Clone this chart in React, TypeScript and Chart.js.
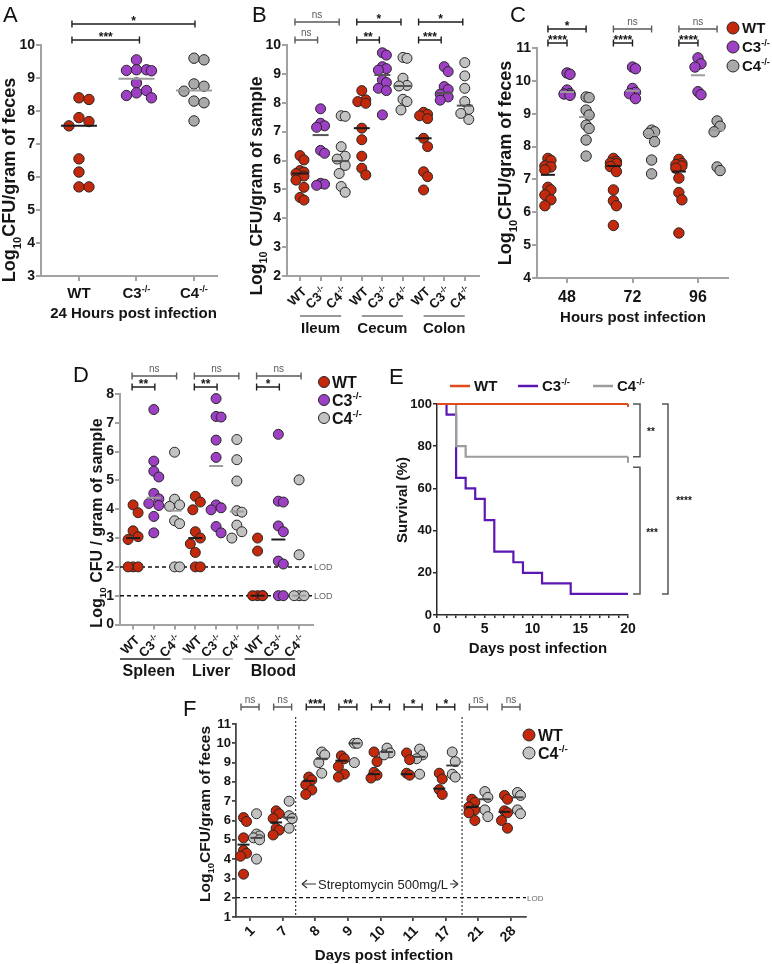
import React, { useEffect, useRef } from 'react';
import { Chart, registerables } from 'chart.js';

Chart.register(...registerables);

const FONT = '"Liberation Sans", Arial, Helvetica, sans-serif';
Chart.defaults.font.family = FONT;

const INK = '#151515';
const EDGE = '#262626';
const RED = '#c4290c';
const PURPLE = '#9d40c3';
const GREY = '#a9a9a9';
const GREY_PALE = '#c2c2c2';
const AXIS_GREY = '#a2a2a2';
const MED_DARK = '#1c1c1c';
const MED_LIGHT = '#9c9c9c';
const E_RED = '#e04a1c';
const E_PURPLE = '#5b16b3';
const E_GREY = '#9c9c9c';

// ---------------- data ----------------
const genotypes = ['WT', 'C3', 'C4'];

// A: faecal burden 24 h post infection
const aWT = [8.4, 8.35, 7.8, 7.68, 7.55, 6.55, 6.15, 5.7, 5.7];
const aC3 = [9.55, 9.25, 9.25, 9.23, 9.22, 8.85, 8.62, 8.55, 8.47, 8.4];
const aC4 = [9.6, 9.55, 8.82, 8.75, 8.6, 8.3, 8.25, 7.7];
const aMedians = [7.55, 8.98, 8.62];
const aVsC3 = '***';
const aVsC4 = '*';

// B: intestinal sites
const bSites = ['Ileum', 'Cecum', 'Colon'];
const bIleumWT = [6.17, 6.02, 5.65, 5.6, 5.55, 5.46, 5.32, 5.07, 4.72, 4.63];
const bIleumC3 = [7.79, 7.29, 7.2, 7.15, 6.35, 6.25, 5.21, 5.18, 5.14];
const bIleumC4 = [7.55, 7.53, 6.48, 6.15, 6.05, 5.83, 5.55, 5.1, 4.9];
const bCecumWT = [8.42, 8.1, 8.04, 7.98, 7.12, 6.72, 6.15, 5.73, 5.5];
const bCecumC3 = [9.73, 9.65, 9.25, 9.18, 9.13, 8.79, 8.7, 8.5, 8.42, 7.58];
const bCecumC4 = [9.57, 9.54, 8.85, 8.6, 8.58, 8.12, 8.04, 7.75];
const bColonWT = [7.67, 7.6, 7.55, 7.45, 6.77, 6.48, 5.61, 5.44, 4.98];
const bColonC3 = [9.25, 9.08, 8.56, 8.46, 8.3, 8.2, 8.09];
const bColonC4 = [9.39, 8.93, 8.5, 8.04, 7.77, 7.63, 7.42];
const bMedians = [5.55, 6.88, 5.98, 7.12, 8.96, 8.58, 6.77, 8.33, 7.9];
const bVsC3 = ['ns', '**', '***'];
const bVsC4 = ['ns', '*', '*'];

// C: faecal burden over time
const cHours = [48, 72, 96];
const c48WT = [7.64, 7.58, 7.41, 7.38, 7.29, 6.76, 6.68, 6.53, 6.38, 6.2];
const c48C3 = [10.24, 10.2, 9.72, 9.61, 9.6, 9.56];
const c48C4 = [9.51, 9.49, 9.11, 8.96, 8.65, 8.55, 8.2, 7.71];
const c72WT = [7.64, 7.55, 7.5, 7.48, 7.39, 7.24, 6.68, 6.35, 6.2, 5.6];
const c72C3 = [10.42, 10.37, 9.77, 9.65, 9.61, 9.46];
const c72C4 = [8.5, 8.45, 8.4, 8.15, 7.59, 7.17];
const c96WT = [7.61, 7.49, 7.45, 7.41, 7.34, 7.04, 6.6, 6.38, 5.37];
const c96C3 = [10.7, 10.52, 10.42, 9.67, 9.58];
const c96C4 = [8.78, 8.62, 8.45, 7.38, 7.27];
const c48Medians = [7.14, 9.66, 8.9];
const c72Medians = [7.41, 9.7, 8.35];
const c96Medians = [7.24, 10.17, 8.5];
const cVsC3 = ['****', '****', '****'];
const cVsC4 = ['*', 'ns', 'ns'];

// D: systemic organs
const dOrgans = ['Spleen', 'Liver', 'Blood'];
const dSpleenWT = [4.15, 3.88, 3.25, 3.05, 2.95, 2, 2, 2];
const dSpleenC3 = [7.46, 5.67, 5.32, 5.12, 4.55, 4.36, 4.2, 4.13, 3.75, 3.18];
const dSpleenC4 = [5.98, 4.35, 4.15, 4.1, 3.6, 3.5, 2, 2];
const dLiverWT = [4.45, 4.25, 3.98, 3.22, 3.0, 2.8, 2.5, 2, 2];
const dLiverC3 = [7.84, 7.22, 7.2, 6.4, 5.8, 4.15, 4.05, 3.98, 3.4, 3.18];
const dLiverC4 = [6.42, 5.72, 4.98, 3.95, 3.9, 3.45, 3.22, 3.0];
const dBloodWT = [3.0, 2.55, 1, 1, 1, 1];
const dBloodC3 = [6.6, 4.28, 4.25, 3.42, 3.22, 2.2, 2.1, 1, 1];
const dBloodC4 = [5.02, 2.42, 1, 1, 1];
const dMedians = [3.0, 4.4, 3.95, 3.0, 5.5, 3.92, 1.0, 2.95, 1.0];
const dVsC3 = ['**', '**', '*'];
const dVsC4 = ['ns', 'ns', 'ns'];
const dLOD = [2, 1];

// E: survival
const eDaysWT = [0, 20];
const eSurvWT = [100, 100];
const eDaysC3 = [0, 1, 2, 3, 4, 5, 6, 8, 9, 11, 14, 20];
const eSurvC3 = [100, 95, 65, 60, 55, 45, 30, 25, 20, 15, 10, 10];
const eDaysC4 = [0, 2, 3, 20];
const eSurvC4 = [100, 80, 75, 75];

// F: streptomycin time course (WT vs C4-/-)
const fDays = ['1', '7', '8', '9', '10', '11', '17', '21', '28'];
const fDay1WT = [6.15, 5.95, 5.1, 4.45, 4.3, 4.15, 3.22];
const fDay1C4 = [6.35, 5.3, 5.2, 5.1, 5.0, 4.0];
const fDay7WT = [6.5, 6.35, 6.1, 5.6, 5.5, 5.25];
const fDay7C4 = [7.0, 6.25, 6.1, 5.6];
const fDay8WT = [8.25, 8.1, 7.85, 7.58, 7.35];
const fDay8C4 = [9.55, 9.4, 9.0, 8.45];
const fDay9WT = [9.35, 9.2, 8.8, 8.4, 8.25];
const fDay9C4 = [10.0, 10.0, 9.0];
const fDay10WT = [9.55, 9.05, 8.5, 8.35, 8.2];
const fDay10C4 = [9.75, 9.5, 9.4];
const fDay11WT = [9.5, 9.15, 8.45, 8.35];
const fDay11C4 = [9.7, 9.4, 9.2, 8.4];
const fDay17WT = [8.45, 8.15, 7.6, 7.35];
const fDay17C4 = [9.55, 9.05, 8.4, 8.25];
const fDay21WT = [7.1, 6.95, 6.7, 6.55, 6.4, 6.0];
const fDay21C4 = [7.5, 7.2, 6.55, 6.2];
const fDay28WT = [7.3, 7.1, 6.5, 6.4, 6.0, 5.6];
const fDay28C4 = [7.45, 7.3, 6.55, 6.35];
const fMediansWT = [4.75, 5.9, 8.05, 9.1, 8.4, 8.4, 7.65, 6.7, 6.45];
const fMediansC4 = [5.1, 6.15, 9.2, 10.0, 9.55, 9.3, 8.85, 7.1, 7.2];
const fSig = ['ns', 'ns', '***', '**', '*', '*', '*', 'ns', 'ns'];
const fLOD = 2;

// ---------------- layout helpers ----------------
type Box = { x: number; y: number; w: number; h: number };
type Area = { l: number; t: number; r: number; b: number };
interface Frame { box: Box; area: Area; xMin: number; xMax: number; yMin: number; yMax: number }
type Ctx = CanvasRenderingContext2D;
type PX = (v: number) => number;

const kxOf = (f: Frame) => (f.area.r - f.area.l) / (f.xMax - f.xMin);
const kyOf = (f: Frame) => (f.area.b - f.area.t) / (f.yMax - f.yMin);

interface AxisStyle { color: string; width: number; tick: number }
const greyAxis: AxisStyle = { color: AXIS_GREY, width: 2, tick: 5 };

function yAxis(f: Frame, step: number, st: AxisStyle, size: number, pad = 1) {
  return {
    type: 'linear', min: f.yMin, max: f.yMax,
    afterFit: (s: any) => { s.width = f.area.l - f.box.x; },
    ticks: { stepSize: step, color: INK, padding: pad, font: { family: FONT, size, weight: 'bold' } },
    grid: { drawOnChartArea: false, drawTicks: true, tickLength: st.tick, color: st.color, lineWidth: st.width },
    border: { display: true, color: st.color, width: st.width },
  };
}

function xAxis(f: Frame, tickVals: number[], st: AxisStyle, labels?: { size: number; pad: number; cb?: (v: number) => string }) {
  return {
    type: 'linear', min: f.xMin, max: f.xMax,
    afterFit: (s: any) => { s.height = f.box.y + f.box.h - f.area.b; },
    afterBuildTicks: (s: any) => { s.ticks = tickVals.map((v) => ({ value: v })); },
    ticks: labels
      ? { display: true, autoSkip: false, maxRotation: 0, padding: labels.pad, color: INK,
          font: { family: FONT, size: labels.size, weight: 'bold' },
          callback: labels.cb ? (v: any) => labels.cb!(Number(v)) : (v: any) => String(v) }
      : { display: false },
    grid: { drawOnChartArea: false, drawTicks: true, tickLength: st.tick, color: st.color, lineWidth: st.width },
    border: { display: true, color: st.color, width: st.width },
  };
}

function buildChart(canvas: HTMLCanvasElement, f: Frame, type: string, datasets: any[], scales: any,
  under?: (c: any) => void, over?: (c: any) => void) {
  return new Chart(canvas, {
    type: type as any,
    data: { datasets },
    options: {
      responsive: false, animation: false, devicePixelRatio: 1, events: [],
      layout: { padding: { left: 0, top: f.area.t - f.box.y, right: f.box.x + f.box.w - f.area.r, bottom: 0 } },
      plugins: { legend: { display: false }, tooltip: { enabled: false } },
      scales,
    } as any,
    plugins: [{
      id: 'panelDecor',
      beforeDatasetsDraw: (c: any) => { if (under) under(c); },
      afterDraw: (c: any) => { if (over) over(c); },
    }],
  });
}

function decor(box: Box, fn: (ctx: Ctx, px: PX, py: PX) => void) {
  return (chart: any) => {
    const ctx: Ctx = chart.ctx;
    const px = (v: number) => chart.scales.x.getPixelForValue(v) + box.x;
    const py = (v: number) => chart.scales.y.getPixelForValue(v) + box.y;
    ctx.save();
    ctx.translate(-box.x, -box.y);
    fn(ctx, px, py);
    ctx.restore();
  };
}

// beeswarm-style horizontal spread, in pixels
interface SwarmOpts { r: number; step: number; maxOff: number; sep: number }
function swarmOffsets(vals: number[], ky: number, o: SwarmOpts): number[] {
  const order = vals.map((_, i) => i).sort((a, b) => vals[b] - vals[a]);
  const cands = [0];
  for (let k = 1; k * o.step <= o.maxOff + 1e-6; k++) cands.push(k * o.step, -k * o.step);
  const placed: { x: number; y: number }[] = [];
  const out = vals.map(() => 0);
  for (const i of order) {
    const y = vals[i] * ky;
    let best = 0;
    let bestCost = Infinity;
    for (const c of cands) {
      let cost = 0;
      for (const p of placed) {
        const d = Math.hypot(p.x - c, p.y - y);
        if (d < o.sep) cost += o.sep - d;
      }
      cost += Math.abs(c) * 0.05;
      if (cost < bestCost - 1e-9) { bestCost = cost; best = c; }
    }
    out[i] = best;
    placed.push({ x: best, y });
  }
  return out;
}

function swarmSet(vals: number[], center: number, kx: number, ky: number, fill: string, o: SwarmOpts) {
  const offs = swarmOffsets(vals, ky, o);
  return {
    type: 'scatter',
    data: vals.map((v, i) => ({ x: center + offs[i] / kx, y: v })),
    backgroundColor: fill, borderColor: EDGE, borderWidth: 1,
    pointRadius: o.r, pointHoverRadius: o.r, clip: false,
  };
}

function medianSet(m: number, center: number, half: number, color: string) {
  return {
    type: 'scatter',
    data: [{ x: center - half, y: m }, { x: center + half, y: m }],
    showLine: true, borderColor: color, backgroundColor: color, borderWidth: 2,
    pointRadius: 0, pointHoverRadius: 0, order: -1, clip: false,
  };
}

// ---------------- text helpers ----------------
type Run = { t: string; s?: 'sub' | 'sup' };
const sub = (t: string): Run => ({ t, s: 'sub' });
const sup = (t: string): Run => ({ t, s: 'sup' });
const geno = (g: string): Run[] => (g === 'WT' ? [{ t: 'WT' }] : [{ t: g }, sup('-/-')]);
const fontOf = (size: number, bold: boolean) => `${bold ? 'bold ' : ''}${size}px ${FONT}`;

function runsWidth(ctx: Ctx, runs: Run[], size: number, bold: boolean) {
  let w = 0;
  for (const r of runs) {
    ctx.font = fontOf(r.s ? size * 0.62 : size, bold);
    w += ctx.measureText(r.t).width;
  }
  return w;
}

function drawRuns(ctx: Ctx, runs: Run[], x: number, y: number, size: number,
  o: { bold?: boolean; align?: 'left' | 'center' | 'right'; color?: string } = {}) {
  const bold = o.bold ?? true;
  const w = runsWidth(ctx, runs, size, bold);
  let cx = o.align === 'center' ? x - w / 2 : o.align === 'right' ? x - w : x;
  const base = y + size * 0.36;
  ctx.fillStyle = o.color ?? INK;
  ctx.textAlign = 'left';
  ctx.textBaseline = 'alphabetic';
  for (const r of runs) {
    const s = r.s ? size * 0.62 : size;
    ctx.font = fontOf(s, bold);
    const dy = r.s === 'sub' ? size * 0.28 : r.s === 'sup' ? -size * 0.42 : 0;
    ctx.fillText(r.t, cx, base + dy);
    cx += ctx.measureText(r.t).width;
  }
}

function rotatedTitle(ctx: Ctx, runs: Run[], x: number, y: number, size: number) {
  ctx.save();
  ctx.translate(x, y);
  ctx.rotate(-Math.PI / 2);
  drawRuns(ctx, runs, 0, 0, size, { align: 'center' });
  ctx.restore();
}

function slantLabel(ctx: Ctx, runs: Run[], x: number, y: number, size: number) {
  ctx.save();
  ctx.translate(x, y);
  ctx.rotate(-Math.PI / 4);
  drawRuns(ctx, runs, 0, 0, size, { align: 'right' });
  ctx.restore();
}

function panelLetter(ctx: Ctx, ch: string, x: number, y: number) {
  drawRuns(ctx, [{ t: ch }], x, y, 22, { bold: false, align: 'left', color: '#111' });
}

function seg(ctx: Ctx, x1: number, y1: number, x2: number, y2: number, color: string, w: number, dash: number[] = []) {
  ctx.save();
  ctx.strokeStyle = color;
  ctx.lineWidth = w;
  ctx.setLineDash(dash);
  ctx.beginPath();
  ctx.moveTo(x1, y1);
  ctx.lineTo(x2, y2);
  ctx.stroke();
  ctx.restore();
}

function bracket(ctx: Ctx, x1: number, x2: number, y: number, label: string) {
  const ns = label === 'ns';
  const col = ns ? '#5a5a5a' : '#1e1e1e';
  ctx.save();
  ctx.strokeStyle = col;
  ctx.lineWidth = 1.4;
  ctx.beginPath();
  ctx.moveTo(x1, y); ctx.lineTo(x2, y);
  ctx.moveTo(x1, y - 3.5); ctx.lineTo(x1, y + 3.5);
  ctx.moveTo(x2, y - 3.5); ctx.lineTo(x2, y + 3.5);
  ctx.stroke();
  ctx.textAlign = 'center';
  ctx.textBaseline = 'alphabetic';
  const cx = (x1 + x2) / 2;
  if (ns) {
    ctx.font = fontOf(10, false);
    ctx.fillStyle = '#5a5a5a';
    ctx.fillText('ns', cx, y - 4);
  } else {
    ctx.font = fontOf(12, true);
    ctx.fillStyle = INK;
    ctx.fillText(label, cx, y + 1);
  }
  ctx.restore();
}

function vBracket(ctx: Ctx, x: number, y1: number, y2: number, arm: number, label: string, lx: number) {
  ctx.save();
  ctx.strokeStyle = '#555';
  ctx.lineWidth = 1.5;
  ctx.beginPath();
  ctx.moveTo(x - arm, y1); ctx.lineTo(x, y1); ctx.lineTo(x, y2); ctx.lineTo(x - arm, y2);
  ctx.stroke();
  ctx.font = fontOf(10, true);
  ctx.fillStyle = INK;
  ctx.textAlign = 'center';
  ctx.textBaseline = 'alphabetic';
  ctx.fillText(label, lx, (y1 + y2) / 2 + 5);
  ctx.restore();
}

function legendDot(ctx: Ctx, x: number, y: number, r: number, fill: string) {
  ctx.save();
  ctx.beginPath();
  ctx.arc(x, y, r, 0, Math.PI * 2);
  ctx.fillStyle = fill;
  ctx.fill();
  ctx.lineWidth = 1;
  ctx.strokeStyle = EDGE;
  ctx.stroke();
  ctx.restore();
}

// ---------------- panel A ----------------
const frameA: Frame = { box: { x: 0, y: 0, w: 250, h: 330 }, area: { l: 41, t: 45, r: 217, b: 276 }, xMin: -0.66, xMax: 2.4, yMin: 3, yMax: 10 };

function buildA(canvas: HTMLCanvasElement) {
  const f = frameA;
  const kx = kxOf(f), ky = kyOf(f);
  const groups = [aWT, aC3, aC4];
  const fills = [RED, PURPLE, GREY];
  const ds: any[] = [];
  groups.forEach((_, i) => ds.push(medianSet(aMedians[i], i, 18 / kx, i === 0 ? MED_DARK : MED_LIGHT)));
  groups.forEach((v, i) => ds.push(swarmSet(v, i, kx, ky, fills[i], { r: 5.2, step: 5, maxOff: 16, sep: 10 })));
  const over = decor(f.box, (ctx, px) => {
    panelLetter(ctx, 'A', 3, 14);
    rotatedTitle(ctx, [{ t: 'Log' }, sub('10'), { t: 'CFU/gram of feces' }], 9, 180, 18);
    genotypes.forEach((g, i) => drawRuns(ctx, geno(g), px(i), 293, 15, { align: 'center' }));
    drawRuns(ctx, [{ t: '24 Hours post infection' }], px(1) - 3, 313, 15, { align: 'center' });
    bracket(ctx, px(0) - 7, px(2) + 1, 24, aVsC4);
    bracket(ctx, px(0) - 7, px(1) + 3, 40, aVsC3);
  });
  return buildChart(canvas, f, 'scatter', ds,
    { x: xAxis(f, [0, 1, 2], greyAxis), y: yAxis(f, 1, greyAxis, 14) }, undefined, over);
}

// ---------------- panel B ----------------
const frameB: Frame = { box: { x: 250, y: 0, w: 262, h: 340 }, area: { l: 287, t: 45, r: 479, b: 276 }, xMin: -0.63, xMax: 8.69, yMin: 2, yMax: 10 };

function buildB(canvas: HTMLCanvasElement) {
  const f = frameB;
  const kx = kxOf(f), ky = kyOf(f);
  const groups = [bIleumWT, bIleumC3, bIleumC4, bCecumWT, bCecumC3, bCecumC4, bColonWT, bColonC3, bColonC4];
  const fills = [RED, PURPLE, GREY_PALE];
  const ds: any[] = [];
  groups.forEach((_, i) => ds.push(medianSet(bMedians[i], i, 8 / kx, i % 3 === 0 ? MED_DARK : '#555')));
  groups.forEach((v, i) => ds.push(swarmSet(v, i, kx, ky, fills[i % 3], { r: 5, step: 2, maxOff: 4, sep: 10 })));
  const over = decor(f.box, (ctx, px) => {
    panelLetter(ctx, 'B', 252, 14);
    rotatedTitle(ctx, [{ t: 'Log' }, sub('10'), { t: ' CFU/gram of sample' }], 256, 186, 17.5);
    for (let i = 0; i < 9; i++) slantLabel(ctx, geno(genotypes[i % 3]), px(i) + 4, f.area.b + 13, 13);
    bSites.forEach((s, g) => {
      seg(ctx, px(3 * g), 316, px(3 * g + 2), 316, '#333', 1);
      drawRuns(ctx, [{ t: s }], px(3 * g + 1), 328, 15, { align: 'center' });
      bracket(ctx, px(3 * g) - 5, px(3 * g + 2) - 2, 22, bVsC4[g]);
      bracket(ctx, px(3 * g) - 5, px(3 * g + 1) - 3, 40, bVsC3[g]);
    });
  });
  return buildChart(canvas, f, 'scatter', ds,
    { x: xAxis(f, [0, 1, 2, 3, 4, 5, 6, 7, 8], greyAxis), y: yAxis(f, 1, greyAxis, 14) }, undefined, over);
}

// ---------------- panel C ----------------
const frameC: Frame = { box: { x: 490, y: 0, w: 282, h: 330 }, area: { l: 537, t: 48, r: 728, b: 278 }, xMin: 37, xMax: 107, yMin: 4, yMax: 11 };

function buildC(canvas: HTMLCanvasElement) {
  const f = frameC;
  const kx = kxOf(f), ky = kyOf(f);
  const byHour = [[c48WT, c48C3, c48C4], [c72WT, c72C3, c72C4], [c96WT, c96C3, c96C4]];
  const meds = [c48Medians, c72Medians, c96Medians];
  const shift = [-7, 0, 7];
  const fills = [RED, PURPLE, GREY];
  const ds: any[] = [];
  cHours.forEach((h, t) => meds[t].forEach((m, g) =>
    ds.push(medianSet(m, h + shift[g], 7 / kx, g === 0 ? MED_DARK : MED_LIGHT))));
  cHours.forEach((h, t) => byHour[t].forEach((v, g) =>
    ds.push(swarmSet(v, h + shift[g], kx, ky, fills[g], { r: 5.2, step: 1.5, maxOff: 3, sep: 10 }))));
  const over = decor(f.box, (ctx, px) => {
    panelLetter(ctx, 'C', 510, 14);
    rotatedTitle(ctx, [{ t: 'Log' }, sub('10'), { t: 'CFU/gram of feces' }], 505, 163, 18);
    drawRuns(ctx, [{ t: 'Hours post infection' }], 633, 317, 15, { align: 'center' });
    cHours.forEach((h, i) => {
      bracket(ctx, px(h - 7), px(h + 7), 29, cVsC4[i]);
      bracket(ctx, px(h - 7), px(h), 43, cVsC3[i]);
    });
    genotypes.forEach((g, i) => {
      legendDot(ctx, 733, 28 + i * 19, 6, fills[i]);
      drawRuns(ctx, geno(g), 742, 28 + i * 19, 15, { align: 'left' });
    });
  });
  return buildChart(canvas, f, 'scatter', ds,
    { x: xAxis(f, cHours, greyAxis, { size: 16, pad: 5 }), y: yAxis(f, 1, greyAxis, 14) }, undefined, over);
}

// ---------------- panel D ----------------
const frameD: Frame = { box: { x: 60, y: 355, w: 330, h: 330 }, area: { l: 120, t: 394, r: 313, b: 624.5 }, xMin: -0.63, xMax: 8.67, yMin: 0, yMax: 8 };

function buildD(canvas: HTMLCanvasElement) {
  const f = frameD;
  const kx = kxOf(f), ky = kyOf(f);
  const groups = [dSpleenWT, dSpleenC3, dSpleenC4, dLiverWT, dLiverC3, dLiverC4, dBloodWT, dBloodC3, dBloodC4];
  const fills = [RED, PURPLE, GREY_PALE];
  const ds: any[] = [];
  groups.forEach((_, i) => ds.push(medianSet(dMedians[i], i, 7 / kx, i % 3 === 0 ? MED_DARK : (i === 7 ? MED_DARK : MED_LIGHT))));
  groups.forEach((v, i) => ds.push(swarmSet(v, i, kx, ky, fills[i % 3], { r: 5, step: 2.5, maxOff: 5, sep: 10 })));
  const under = decor(f.box, (ctx, px, py) => {
    dLOD.forEach((v) => {
      seg(ctx, f.area.l, py(v), 312, py(v), '#111', 1.5, [4, 3]);
      drawRuns(ctx, [{ t: 'LOD' }], 314, py(v), 9, { bold: false, color: '#666' });
    });
  });
  const over = decor(f.box, (ctx, px) => {
    panelLetter(ctx, 'D', 73, 374);
    rotatedTitle(ctx, [{ t: 'Log' }, sub('10'), { t: ' CFU / gram of sample' }], 96, 523, 16);
    for (let i = 0; i < 9; i++) slantLabel(ctx, geno(genotypes[i % 3]), px(i) + 4, f.area.b + 13, 13);
    const lineCols = ['#222', '#aaa', '#222'];
    dOrgans.forEach((s, g) => {
      seg(ctx, px(3 * g) - 13, 659, px(3 * g + 2) - 4, 659, lineCols[g], 1.5);
      drawRuns(ctx, [{ t: s }], px(3 * g + 1) - 5, 670, 16, { align: 'center' });
      bracket(ctx, px(3 * g) - 1, px(3 * g + 2) + 2, 376, dVsC4[g]);
      bracket(ctx, px(3 * g) - 1, px(3 * g + 1) + 1, 387, dVsC3[g]);
    });
    genotypes.forEach((g, i) => {
      legendDot(ctx, 324, 382 + i * 18, 5.5, fills[i]);
      drawRuns(ctx, geno(g), 332, 382 + i * 18, 16, { align: 'left' });
    });
  });
  return buildChart(canvas, f, 'scatter', ds,
    { x: xAxis(f, [0, 1, 2, 3, 4, 5, 6, 7, 8], greyAxis), y: yAxis(f, 1, greyAxis, 14) }, under, over);
}

// ---------------- panel E ----------------
const frameE: Frame = { box: { x: 380, y: 355, w: 392, h: 310 }, area: { l: 437, t: 404, r: 628, b: 615 }, xMin: 0, xMax: 20, yMin: 0, yMax: 100 };

function buildE(canvas: HTMLCanvasElement) {
  const f = frameE;
  const darkAxis: AxisStyle = { color: '#2b2b2b', width: 1.5, tick: 4 };
  const days = Array.from({ length: 21 }, (_, i) => i);
  const curve = (xs: number[], ys: number[], color: string) => ({
    data: xs.map((d, i) => ({ x: d, y: ys[i] })),
    stepped: true, borderColor: color, backgroundColor: color, borderWidth: 2.2,
    pointRadius: 0, pointHoverRadius: 0, fill: false, clip: false,
  });
  const ds = [curve(eDaysWT, eSurvWT, E_RED), curve(eDaysC4, eSurvC4, E_GREY), curve(eDaysC3, eSurvC3, E_PURPLE)];
  const over = decor(f.box, (ctx, px, py) => {
    panelLetter(ctx, 'E', 389, 376);
    const leg = [{ g: 'WT', c: E_RED, x: 450 }, { g: 'C3', c: E_PURPLE, x: 518 }, { g: 'C4', c: E_GREY, x: 593 }];
    leg.forEach((l) => {
      seg(ctx, l.x, 386, l.x + 20, 386, l.c, 2.5);
      drawRuns(ctx, geno(l.g), l.x + 24, 386, 15, { align: 'left' });
    });
    rotatedTitle(ctx, [{ t: 'Survival (%)' }], 402, 500, 15);
    drawRuns(ctx, [{ t: 'Days post infection' }], 538, 648, 15, { align: 'center' });
    // censoring marks at end of follow-up
    seg(ctx, px(20), py(75), px(20), py(75) + 6, E_GREY, 2);
    seg(ctx, px(20), py(100), px(20), py(100) + 3, E_RED, 2);
    vBracket(ctx, 640, py(100), py(75), 7, '**', 651);
    vBracket(ctx, 640, py(70), py(10), 7, '***', 652);
    vBracket(ctx, 668, py(100), py(10), 6, '****', 684);
  });
  return buildChart(canvas, f, 'line', ds, {
    x: xAxis(f, days, { color: '#2b2b2b', width: 1.5, tick: 3 }, { size: 14, pad: 3, cb: (v) => (v % 5 === 0 ? String(v) : '') }),
    y: yAxis(f, 20, darkAxis, 13),
  }, undefined, over);
}

// ---------------- panel F ----------------
const frameF: Frame = { box: { x: 170, y: 680, w: 430, h: 284 }, area: { l: 236, t: 724, r: 526, b: 917 }, xMin: -0.43, xMax: 8.46, yMin: 1, yMax: 11 };

function buildF(canvas: HTMLCanvasElement) {
  const f = frameF;
  const kx = kxOf(f), ky = kyOf(f);
  const wt = [fDay1WT, fDay7WT, fDay8WT, fDay9WT, fDay10WT, fDay11WT, fDay17WT, fDay21WT, fDay28WT];
  const c4 = [fDay1C4, fDay7C4, fDay8C4, fDay9C4, fDay10C4, fDay11C4, fDay17C4, fDay21C4, fDay28C4];
  const off = 6.5 / kx;
  const o = { r: 5, step: 1.5, maxOff: 3, sep: 10 };
  const ds: any[] = [];
  fDays.forEach((_, i) => {
    ds.push(medianSet(fMediansWT[i], i - off, 6 / kx, MED_DARK));
    ds.push(medianSet(fMediansC4[i], i + off, 6 / kx, '#444'));
  });
  fDays.forEach((_, i) => {
    ds.push(swarmSet(wt[i], i - off, kx, ky, RED, o));
    ds.push(swarmSet(c4[i], i + off, kx, ky, GREY_PALE, o));
  });
  const darkAxis: AxisStyle = { color: '#474747', width: 1.8, tick: 4 };
  const under = decor(f.box, (ctx, px, py) => {
    seg(ctx, px(1.4), 717, px(1.4), f.area.b, '#111', 1, [2, 2]);
    seg(ctx, px(6.5), 717, px(6.5), f.area.b, '#111', 1, [2, 2]);
    seg(ctx, f.area.l, py(fLOD), f.area.r, py(fLOD), '#111', 1.3, [4, 3]);
    drawRuns(ctx, [{ t: 'LOD' }], 527, py(fLOD), 8, { bold: false, color: '#666' });
    // antibiotic window annotation
    const ty = 884;
    drawRuns(ctx, [{ t: 'Streptomycin 500mg/L' }], 383, ty, 13, { bold: false, align: 'center', color: '#222' });
    seg(ctx, 302, ty, 316, ty, '#777', 1.5);
    seg(ctx, 302, ty, 307, ty - 4, '#333', 1.2);
    seg(ctx, 302, ty, 307, ty + 4, '#333', 1.2);
    seg(ctx, 450, ty, 458, ty, '#777', 1.5);
    seg(ctx, 458, ty, 453, ty - 4, '#333', 1.2);
    seg(ctx, 458, ty, 453, ty + 4, '#333', 1.2);
  });
  const over = decor(f.box, (ctx, px) => {
    panelLetter(ctx, 'F', 183, 708);
    rotatedTitle(ctx, [{ t: 'Log' }, sub('10'), { t: 'CFU/gram of feces' }], 204, 814, 15.5);
    fDays.forEach((d, i) => slantLabel(ctx, [{ t: d }], px(i) + 2, f.area.b + 11, 14));
    drawRuns(ctx, [{ t: 'Days post infection' }], 384, 955, 15, { align: 'center' });
    fSig.forEach((s, i) => bracket(ctx, px(i) - 9, px(i) + 9, 707, s));
    legendDot(ctx, 529, 735, 6, RED);
    drawRuns(ctx, geno('WT'), 538, 735, 16, { align: 'left' });
    legendDot(ctx, 529, 753, 6, GREY_PALE);
    drawRuns(ctx, geno('C4'), 538, 753, 16, { align: 'left' });
  });
  return buildChart(canvas, f, 'scatter', ds,
    { x: xAxis(f, [0, 1, 2, 3, 4, 5, 6, 7, 8], darkAxis), y: yAxis(f, 1, darkAxis, 13) }, under, over);
}

// ---------------- components ----------------
function PanelCanvas({ box, build }: { box: Box; build: (c: HTMLCanvasElement) => Chart }) {
  const ref = useRef<HTMLCanvasElement>(null);
  useEffect(() => {
    const chart = build(ref.current!);
    return () => chart.destroy();
  }, []);
  return (
    <canvas
      ref={ref}
      width={box.w}
      height={box.h}
      style={{ position: 'absolute', left: box.x, top: box.y, width: box.w, height: box.h }}
    />
  );
}

export default function App() {
  return (
    <div style={{ position: 'absolute', left: 0, top: 0, width: 772, height: 964, background: '#fff', overflow: 'hidden' }}>
      <PanelCanvas box={frameA.box} build={buildA} />
      <PanelCanvas box={frameB.box} build={buildB} />
      <PanelCanvas box={frameC.box} build={buildC} />
      <PanelCanvas box={frameD.box} build={buildD} />
      <PanelCanvas box={frameE.box} build={buildE} />
      <PanelCanvas box={frameF.box} build={buildF} />
    </div>
  );
}
